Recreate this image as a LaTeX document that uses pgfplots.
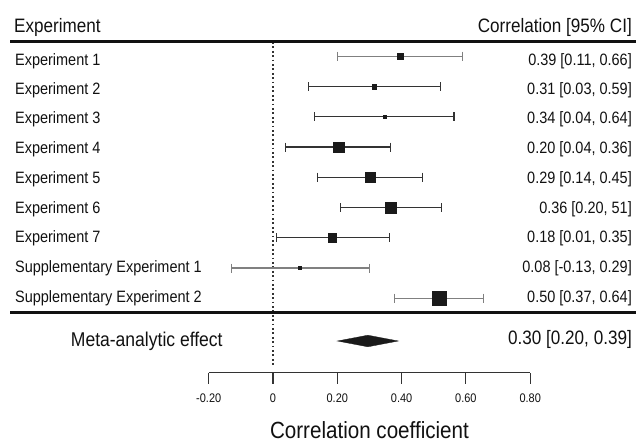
\documentclass[border=0pt]{standalone}
\usepackage{fontspec}
\setmainfont{Liberation Sans}[FakeStretch=0.88]
\usepackage{pgfplots}
\pgfplotsset{compat=1.18}
\definecolor{txt}{HTML}{111111}
\definecolor{sq}{HTML}{1A1A1A}
\definecolor{barD}{HTML}{333333}
\definecolor{barL}{HTML}{808080}
\newcommand{\fs}[1]{\fontsize{#1}{#1}\selectfont}
\newcommand{\ci}[6]{%
  \addplot[draw=#5, line width=1.1bp, mark=|, mark size=4.5bp, mark options={solid,draw=#5,line width=1.1bp}] coordinates {(#1,#4) (#2,#4)};
  \addplot[only marks, mark=square*, mark size=#6bp, mark options={draw=sq, fill=sq}] coordinates {(#3,#4)};
}
\newcommand{\rowtext}[3]{%
  \node[anchor=base west, font=\fs{16.5}, text=txt, inner sep=0] at (axis cs:-0.8025,#3) {#1};
  \node[anchor=base east, font=\fs{16.5}, text=txt, inner sep=0] at (axis cs:1.1166,#3) {#2};
}
\begin{document}
\begin{tikzpicture}
\useasboundingbox (-208.7bp,-69.5bp) rectangle (427.3bp,372.5bp);
\begin{axis}[
  at={(0,0)}, anchor=south west,
  scale only axis, width=321.5bp, height=372.5bp,
  xmin=-0.2, xmax=0.8, ymin=0, ymax=372.5, y dir=reverse,
  axis x line*=bottom, hide y axis,
  x axis line style={line width=1.1bp, draw=barD},
  tick align=outside, major tick length=11bp,
  xtick={-0.2,0,0.2,0.4,0.6,0.8},
  xticklabels={-0.20,0,0.20,0.40,0.60,0.80},
  xtick style={line width=1.1bp, draw=barD},
  xticklabel style={font=\fs{12.5}, text=txt, yshift=-7bp},
  clip=false,
]
% zero line
\addplot[draw=barD, line width=1.1bp, dash pattern=on 1.8bp off 2.6bp] coordinates {(0,42) (0,367)};
% rules
\addplot[draw=txt, line width=3.3bp] coordinates {(-0.818,41.7) (1.129,41.7)};
\addplot[draw=txt, line width=3.3bp] coordinates {(-0.818,312.5) (1.129,312.5)};
% study rows: lo, hi, est, y, colour, half side
\ci{0.200}{0.590}{0.395}{56.2}{barL}{3}
\ci{0.110}{0.520}{0.315}{86.5}{barD}{2.2}
\ci{0.130}{0.563}{0.348}{116.7}{barD}{1.6}
\ci{0.040}{0.366}{0.205}{147}{barD}{5.3}
\ci{0.138}{0.464}{0.302}{177.2}{barD}{5}
\ci{0.210}{0.523}{0.366}{207.5}{barD}{5.8}
\ci{0.0115}{0.362}{0.184}{237.7}{barD}{4.2}
\ci{-0.130}{0.300}{0.084}{268}{barL}{1.4}
\ci{0.378}{0.654}{0.516}{298.2}{barL}{7}
% diamond
\addplot[draw=sq, fill=sq, line width=0.3bp] coordinates {(0.20,341) (0.295,335.2) (0.39,341) (0.295,346.8)} -- cycle;
% texts
\node[anchor=base west, font=\fs{19.5}, text=txt, inner sep=0] at (axis cs:-0.8056,32) {Experiment};
\node[anchor=base east, font=\fs{19.5}, text=txt, inner sep=0] at (axis cs:1.1166,32) {Correlation [95\% CI]};
\rowtext{Experiment 1}{0.39 [0.11, 0.66]}{65}
\rowtext{Experiment 2}{0.31 [0.03, 0.59]}{94.2}
\rowtext{Experiment 3}{0.34 [0.04, 0.64]}{123.7}
\rowtext{Experiment 4}{0.20 [0.04, 0.36]}{153.3}
\rowtext{Experiment 5}{0.29 [0.14, 0.45]}{183}
\rowtext{Experiment 6}{0.36 [0.20, 51]}{213}
\rowtext{Experiment 7}{0.18 [0.01, 0.35]}{242.4}
\rowtext{Supplementary Experiment 1}{0.08 [-0.13, 0.29]}{272.4}
\rowtext{Supplementary Experiment 2}{0.50 [0.37, 0.64]}{302.4}
\node[anchor=base west, font=\fs{20}, text=txt, inner sep=0] at (axis cs:-0.6292,346) {Meta-analytic effect};
\node[anchor=base east, font=\fs{19.5}, text=txt, inner sep=0] at (axis cs:1.1166,344.3) {0.30 [0.20, 0.39]};
\node[anchor=base, font=\fs{23.5}, text=txt, inner sep=0] at (axis cs:0.3,438) {Correlation coefficient};
\end{axis}
\end{tikzpicture}
\end{document}
